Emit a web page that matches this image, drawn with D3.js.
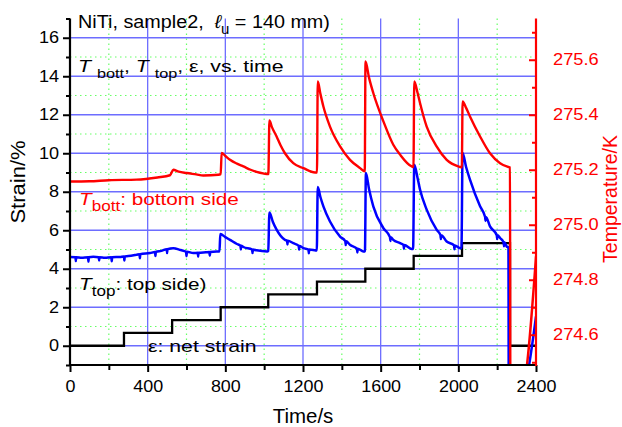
<!DOCTYPE html>
<html><head><meta charset="utf-8">
<script src="https://cdn.jsdelivr.net/npm/d3@7"></script>
<style>
body{margin:0;background:#fff}
svg text{font-family:"Liberation Sans",Arial,Helvetica,sans-serif;white-space:pre}
</style>
</head><body>
<svg id="c" width="622" height="427"></svg>
<script>
// ---- data: [time in s, temperature in K] ----
const bottomSide = [[0,275.157],[100,275.158],[200,275.162],[343,275.164],[450,275.172],[515,275.180],[532,275.200],
  [560,275.193],[601,275.188],[650,275.183],[687,275.179],[764,275.182],[776,275.184],[781,275.261],[800,275.250],
  [824,275.236],[860,275.222],[893,275.212],[930,275.200],[961,275.192],[1000,275.186],[1021,275.184],
  [1022,275.190],[1027,275.379],[1040,275.355],[1064,275.321],[1085,275.288],[1107,275.260],[1150,275.224],
  [1202,275.206],[1262,275.190],[1272,275.190],[1276,275.521],[1290,275.475],[1305,275.430],[1339,275.357],
  [1391,275.285],[1442,275.236],[1494,275.206],[1518,275.194],[1522,275.594],[1540,275.535],[1562,275.479],
  [1614,275.376],[1665,275.291],[1700,275.255],[1760,275.212],[1769,275.210],[1773,275.521],[1790,275.480],
  [1803,275.442],[1837,275.357],[1888,275.285],[1940,275.236],[2009,275.210],[2018,275.208],[2022,275.448],
  [2040,275.425],[2060,275.394],[2112,275.321],[2163,275.260],[2215,275.224],[2258,275.210],[2266,275.208],
  [2268,274.400],[2326,274.400],[2400,274.885]];

const topSide = [[0,274.883],[28,274.882],[30,274.868],[32,274.882],[60,274.880],[93,274.882],[95,274.866],[97,274.882],
  [120,274.884],[148,274.882],[150,274.870],[152,274.882],[180,274.880],[213,274.882],[215,274.867],[217,274.882],
  [258,274.883],[278,274.885],[280,274.870],[282,274.885],[300,274.886],[343,274.891],[358,274.893],[360,274.878],
  [362,274.893],[412,274.897],[438,274.901],[440,274.886],[442,274.901],[470,274.905],[498,274.911],[500,274.897],
  [502,274.911],[532,274.915],[570,274.908],[598,274.902],[600,274.886],[602,274.902],[635,274.897],[658,274.898],
  [660,274.884],[662,274.898],[700,274.900],[718,274.901],[720,274.887],[722,274.901],[755,274.903],[770,274.903],
  [774,274.966],[800,274.955],[824,274.945],[860,274.930],[878,274.924],[880,274.910],[882,274.924],[893,274.919],
  [938,274.910],[940,274.897],[942,274.910],[961,274.907],[1016,274.903],[1021,274.905],[1027,275.045],[1045,275.010],
  [1064,274.982],[1107,274.945],[1118,274.942],[1120,274.928],[1122,274.942],[1150,274.933],[1178,274.923],
  [1180,274.909],[1182,274.923],[1202,274.915],[1228,274.910],[1230,274.896],[1232,274.910],[1262,274.907],
  [1271,274.906],[1276,275.137],[1290,275.100],[1305,275.067],[1339,275.012],[1391,274.957],[1418,274.940],
  [1420,274.926],[1422,274.940],[1442,274.927],[1478,274.913],[1480,274.899],[1482,274.913],[1511,274.903],
  [1519,274.903],[1524,275.188],[1540,275.130],[1562,275.067],[1614,274.988],[1648,274.955],[1650,274.941],
  [1652,274.955],[1665,274.945],[1700,274.933],[1718,274.926],[1720,274.912],[1722,274.926],[1760,274.912],
  [1767,274.912],[1773,275.218],[1790,275.170],[1803,275.127],[1837,275.055],[1888,274.982],[1908,274.962],
  [1910,274.948],[1912,274.962],[1940,274.939],[1978,274.925],[1980,274.911],[1982,274.925],[2009,274.915],
  [2016,274.915],[2022,275.261],[2040,275.210],[2060,275.164],[2112,275.067],[2138,275.028],[2140,275.014],
  [2142,275.028],[2163,274.994],[2198,274.962],[2200,274.948],[2202,274.962],[2215,274.952],[2233,274.936],
  [2235,274.922],[2237,274.936],[2249,274.921],[2258,274.918],[2260,274.300],[2340,274.400],[2400,274.667]];

const stepTime   = [0,278,526,776,1021,1272,1521,1770,2019,2266,2400];
const stepStrain = [0,0.67,1.33,2.0,2.67,3.33,4.0,4.67,5.33,0,0];

const timeTicks   = [0,400,800,1200,1600,2000,2400];
const timeMinor   = [200,600,1000,1400,1800,2200];
const strainTicks = [0,2,4,6,8,10,12,14,16];
const strainMinor = [-1,1,3,5,7,9,11,13,15,17];
const tempTicks   = [274.6,274.8,275.0,275.2,275.4,275.6];
const tempMinor   = [274.5,274.7,274.9,275.1,275.3,275.5,275.7];

// ---- layout ----
const L=70, R=536, T=18.5, B=365;
const svg = d3.select("#c");
const x = d3.scaleLinear().domain([0,2400]).range([L,R]);
const y = d3.scaleLinear().domain([-1,17]).range([B,T]);
const yr = d3.scaleLinear().domain([274.49,275.75]).range([B,T]);

// grid
const g = svg.append("g");
g.selectAll(".gv").data(timeMinor).enter().append("line")
  .attr("x1",d=>x(d)).attr("x2",d=>x(d)).attr("y1",T).attr("y2",B)
  .attr("stroke","#66ff66").attr("stroke-width",1.2).attr("stroke-dasharray","1.5,3.5");
g.selectAll(".gh").data(strainMinor.filter(d=>d>-1&&d<17)).enter().append("line")
  .attr("y1",d=>y(d)).attr("y2",d=>y(d)).attr("x1",L).attr("x2",R)
  .attr("stroke","#66ff66").attr("stroke-width",1.2).attr("stroke-dasharray","1.5,3.5");
g.selectAll(".bv").data(timeTicks.slice(1,-1)).enter().append("line")
  .attr("x1",d=>x(d)).attr("x2",d=>x(d)).attr("y1",T).attr("y2",B)
  .attr("stroke","#6d6dff").attr("stroke-width",1.3);
g.selectAll(".bh").data(strainTicks).enter().append("line")
  .attr("y1",d=>y(d)).attr("y2",d=>y(d)).attr("x1",L).attr("x2",R)
  .attr("stroke","#6d6dff").attr("stroke-width",1.3);

// series
svg.append("defs").append("clipPath").attr("id","clip").append("rect")
  .attr("x",L).attr("y",T).attr("width",R-L).attr("height",B-T);
const plot = svg.append("g").attr("clip-path","url(#clip)");

const stepLine = d3.line().x(d=>x(d[0])).y(d=>y(d[1])).curve(d3.curveStepAfter);
plot.append("path").datum(stepTime.map((t,i)=>[t,stepStrain[i]]))
  .attr("d",stepLine).attr("fill","none").attr("stroke","#000").attr("stroke-width",2.3);

const tLine = d3.line().x(d=>x(d[0])).y(d=>yr(d[1])).curve(d3.curveMonotoneX);
plot.append("path").datum(topSide)
  .attr("d",tLine).attr("fill","none").attr("stroke","#0000ff").attr("stroke-width",2.5).attr("stroke-linejoin","round");
plot.append("path").datum(bottomSide)
  .attr("d",tLine).attr("fill","none").attr("stroke","#ff0000").attr("stroke-width",2.4).attr("stroke-linejoin","round");

// axes
function styleAxis(sel,color,sx){
  sel.select(".domain").remove();
  sel.selectAll("line").attr("stroke",color).attr("stroke-width",2);
  sel.selectAll("text").attr("fill",color).style("font-size","16px")
    .each(function(){
      const t=d3.select(this); const xv=+t.attr("x")||0;
      t.attr("x",xv/sx).attr("transform",`scale(${sx},1)`);
    });
}
const ax = svg.append("g").attr("transform",`translate(0,${B})`)
  .call(d3.axisBottom(x).tickValues(timeTicks).tickSize(7).tickPadding(9).tickFormat(d3.format("d")));
styleAxis(ax,"#000",1.12);
const axm = svg.append("g").attr("transform",`translate(0,${B})`)
  .call(d3.axisBottom(x).tickValues(timeMinor).tickSize(5).tickFormat(""));
styleAxis(axm,"#000",1);

const ayl = svg.append("g").attr("transform",`translate(${L},0)`)
  .call(d3.axisLeft(y).tickValues(strainTicks).tickSize(7).tickPadding(4).tickFormat(d3.format("d")));
styleAxis(ayl,"#000",1.13);
const aylm = svg.append("g").attr("transform",`translate(${L},0)`)
  .call(d3.axisLeft(y).tickValues(strainMinor).tickSize(4).tickFormat(""));
styleAxis(aylm,"#000",1);

const ayr = svg.append("g").attr("transform",`translate(${R},0)`)
  .call(d3.axisRight(yr).tickValues(tempTicks).tickSize(-7).tickPadding(17).tickFormat(d3.format(".1f")));
styleAxis(ayr,"#ff0000",1.14);
const ayrm = svg.append("g").attr("transform",`translate(${R},0)`)
  .call(d3.axisRight(yr).tickValues(tempMinor).tickSize(-4).tickFormat(""));
styleAxis(ayrm,"#ff0000",1);

// axis lines
svg.append("line").attr("x1",L-1).attr("x2",R).attr("y1",B).attr("y2",B).attr("stroke","#000").attr("stroke-width",2.2);
svg.append("line").attr("x1",L).attr("x2",L).attr("y1",T).attr("y2",B+1).attr("stroke","#000").attr("stroke-width",2.2);
svg.append("line").attr("x1",R).attr("x2",R).attr("y1",T).attr("y2",B+1).attr("stroke","#ff0000").attr("stroke-width",2.2);

// axis titles
svg.append("text").attr("transform",`translate(${(L+R)/2},423) scale(1.05,1)`).attr("text-anchor","middle")
  .style("font-size","19.5px").text("Time/s");
svg.append("text").attr("transform","translate(25,182) rotate(-90) scale(1.1,1)").attr("text-anchor","middle")
  .style("font-size","20px").text("Strain/%");
svg.append("text").attr("transform","translate(617,199) rotate(-90)").attr("text-anchor","middle")
  .attr("fill","#ff0000").style("font-size","19.5px").text("Temperature/K");

// annotations (the reference type is horizontally wide, hence the x-scale)
function rich(xp,yp,fs,subfs,sx,parts,color){
  const t = svg.append("text").attr("transform",`translate(${xp},${yp}) scale(${sx},1)`)
    .attr("fill",color).style("font-size",fs+"px");
  parts.forEach(p=>{
    const s = t.append("tspan").text(p.t);
    if(p.i) s.style("font-style","italic");
    if(p.sub){ s.attr("dy",6).style("font-size",subfs+"px"); }
    if(p.back){ s.attr("dy",-6); }
  });
  return t;
}
rich(78,28,18.5,14,1.07,[{t:"NiTi, sample2,  "},{t:"ℓ",i:1},{t:"u",sub:1},{t:" = 140 mm)",back:1}],"#000");
rich(78,72,17,13,1.25,[{t:"T ",i:1},{t:"bott",sub:1},{t:", ",back:1},{t:"T ",i:1},{t:"top",sub:1},{t:", ε, vs. time",back:1}],"#000");
rich(79,205,17,14,1.22,[{t:"T",i:1},{t:"bott",sub:1},{t:": bottom side",back:1}],"#ff0000");
rich(79,290,17,14,1.22,[{t:"T",i:1},{t:"top",sub:1},{t:": top side)",back:1}],"#000");
rich(148,352,17,14,1.25,[{t:"ε: net strain"}],"#000");
</script>
</body></html>
